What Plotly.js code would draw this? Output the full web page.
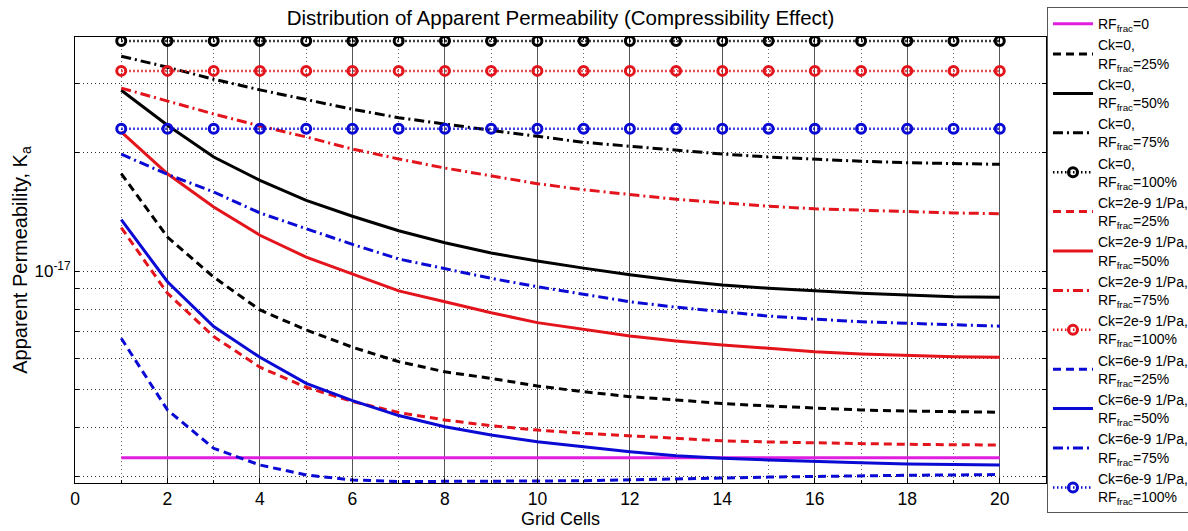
<!DOCTYPE html>
<html><head><meta charset="utf-8">
<script src="https://cdn.plot.ly/plotly-3.0.1.min.js"></script>
<style>html,body{margin:0;padding:0;background:#fff;overflow:hidden}#chart{width:1188px;height:531px}</style>
</head><body><div id="chart"></div>
<script>
// ---- data ----
const cells = [1,2,3,4,5,6,7,8,9,10,11,12,13,14,15,16,17,18,19,20];

const rf0 = [3.35e-18,3.35e-18,3.35e-18,3.35e-18,3.35e-18,3.35e-18,3.35e-18,3.35e-18,3.35e-18,3.35e-18,
             3.35e-18,3.35e-18,3.35e-18,3.35e-18,3.35e-18,3.35e-18,3.35e-18,3.35e-18,3.35e-18,3.35e-18];

const ck0_25 = [1.768e-17,1.220e-17,9.65e-18,7.96e-18,7.08e-18,6.40e-18,5.88e-18,5.54e-18,5.33e-18,5.10e-18,
                4.93e-18,4.79e-18,4.70e-18,4.60e-18,4.535e-18,4.473e-18,4.429e-18,4.403e-18,4.385e-18,4.37e-18];
const ck0_50 = [2.883e-17,2.348e-17,1.950e-17,1.701e-17,1.513e-17,1.378e-17,1.266e-17,1.180e-17,1.111e-17,1.060e-17,
                1.017e-17,9.78e-18,9.46e-18,9.21e-18,9.04e-18,8.90e-18,8.78e-18,8.69e-18,8.60e-18,8.57e-18];
const ck0_75 = [3.52e-17,3.30e-17,3.075e-17,2.89e-17,2.73e-17,2.58e-17,2.455e-17,2.362e-17,2.280e-17,2.201e-17,
                2.126e-17,2.077e-17,2.028e-17,1.985e-17,1.950e-17,1.924e-17,1.902e-17,1.886e-17,1.875e-17,1.868e-17];
const ck0_100 = [3.85e-17,3.85e-17,3.85e-17,3.85e-17,3.85e-17,3.85e-17,3.85e-17,3.85e-17,3.85e-17,3.85e-17,
                 3.85e-17,3.85e-17,3.85e-17,3.85e-17,3.85e-17,3.85e-17,3.85e-17,3.85e-17,3.85e-17,3.85e-17];

const ck2_25 = [1.289e-17,8.78e-18,6.81e-18,5.69e-18,5.06e-18,4.656e-18,4.365e-18,4.177e-18,4.040e-18,3.939e-18,
                3.864e-18,3.804e-18,3.753e-18,3.698e-18,3.672e-18,3.650e-18,3.636e-18,3.622e-18,3.614e-18,3.608e-18];
const ck2_50 = [2.26e-17,1.768e-17,1.455e-17,1.233e-17,1.085e-17,9.83e-18,8.90e-18,8.35e-18,7.83e-18,7.39e-18,
                7.11e-18,6.83e-18,6.64e-18,6.48e-18,6.36e-18,6.23e-18,6.15e-18,6.09e-18,6.05e-18,6.03e-18];
const ck2_75 = [2.92e-17,2.707e-17,2.509e-17,2.339e-17,2.193e-17,2.044e-17,1.928e-17,1.828e-17,1.745e-17,1.668e-17,
                1.610e-17,1.564e-17,1.522e-17,1.491e-17,1.461e-17,1.440e-17,1.427e-17,1.413e-17,1.405e-17,1.399e-17];
const ck2_100 = [3.23e-17,3.23e-17,3.23e-17,3.23e-17,3.23e-17,3.23e-17,3.23e-17,3.23e-17,3.23e-17,3.23e-17,
                 3.23e-17,3.23e-17,3.23e-17,3.23e-17,3.23e-17,3.23e-17,3.23e-17,3.23e-17,3.23e-17,3.23e-17];

const ck6_25 = [6.742e-18,4.429e-18,3.539e-18,3.209e-18,3.027e-18,2.939e-18,2.913e-18,2.912e-18,2.912e-18,2.922e-18,
                2.927e-18,2.939e-18,2.951e-18,2.973e-18,2.990e-18,3.003e-18,3.015e-18,3.022e-18,3.027e-18,3.035e-18];
const ck6_50 = [1.351e-17,9.39e-18,7.22e-18,6.03e-18,5.18e-18,4.68e-18,4.287e-18,4.016e-18,3.825e-18,3.678e-18,
                3.572e-18,3.469e-18,3.389e-18,3.338e-18,3.305e-18,3.272e-18,3.253e-18,3.228e-18,3.214e-18,3.209e-18];
const ck6_75 = [1.982e-17,1.762e-17,1.589e-17,1.405e-17,1.281e-17,1.169e-17,1.073e-17,1.016e-17,9.58e-18,9.12e-18,
                8.72e-18,8.35e-18,8.09e-18,7.88e-18,7.68e-18,7.54e-18,7.43e-18,7.36e-18,7.29e-18,7.24e-18];
const ck6_100 = [2.30e-17,2.30e-17,2.30e-17,2.30e-17,2.30e-17,2.30e-17,2.30e-17,2.30e-17,2.30e-17,2.30e-17,
                 2.30e-17,2.30e-17,2.30e-17,2.30e-17,2.30e-17,2.30e-17,2.30e-17,2.30e-17,2.30e-17,2.30e-17];

const seriesNames = [
  'RF<sub>frac</sub>=0',
  'Ck=0,<br>RF<sub>frac</sub>=25%', 'Ck=0,<br>RF<sub>frac</sub>=50%', 'Ck=0,<br>RF<sub>frac</sub>=75%', 'Ck=0,<br>RF<sub>frac</sub>=100%',
  'Ck=2e-9 1/Pa,<br>RF<sub>frac</sub>=25%', 'Ck=2e-9 1/Pa,<br>RF<sub>frac</sub>=50%', 'Ck=2e-9 1/Pa,<br>RF<sub>frac</sub>=75%', 'Ck=2e-9 1/Pa,<br>RF<sub>frac</sub>=100%',
  'Ck=6e-9 1/Pa,<br>RF<sub>frac</sub>=25%', 'Ck=6e-9 1/Pa,<br>RF<sub>frac</sub>=50%', 'Ck=6e-9 1/Pa,<br>RF<sub>frac</sub>=75%', 'Ck=6e-9 1/Pa,<br>RF<sub>frac</sub>=100%'
];
const seriesValues = [rf0, ck0_25, ck0_50, ck0_75, ck0_100, ck2_25, ck2_50, ck2_75, ck2_100, ck6_25, ck6_50, ck6_75, ck6_100];

const yTickVals = [3e-18,4e-18,5e-18,6e-18,7e-18,8e-18,9e-18,1e-17,2e-17,3e-17];
const yTickText = ['','','','','','','','10<sup>-17</sup>','',''];

// ---- styles ----
const BLACK = '#000000', RED = '#e3141b', BLUE = '#0a0ad4', MAG = '#e01ee0';
const DASH = '8px,5px', DASHDOT = '10px,4px,2px,4px', DOT = '1.5px,2.5px';
const styles = [
  {c: MAG,   d: 'solid'},
  {c: BLACK, d: DASH}, {c: BLACK, d: 'solid'}, {c: BLACK, d: DASHDOT}, {c: BLACK, d: DOT, m: true},
  {c: RED,   d: DASH}, {c: RED,   d: 'solid'}, {c: RED,   d: DASHDOT}, {c: RED,   d: DOT, m: true},
  {c: BLUE,  d: DASH}, {c: BLUE,  d: 'solid'}, {c: BLUE,  d: DASHDOT}, {c: BLUE,  d: DOT, m: true}
];

const traces = seriesValues.map((vals, i) => {
  const s = styles[i];
  const t = {
    x: cells, y: vals, name: seriesNames[i],
    type: 'scatter', mode: s.m ? 'lines+markers' : 'lines',
    line: {color: s.c, width: s.m ? 2.5 : 3, dash: s.d}
  };
  if (s.m) t.marker = {symbol: 'circle-open', size: 9, color: s.c, line: {width: 3, color: s.c}};
  return t;
});

const FONT = 'Liberation Sans, Arial, Helvetica, sans-serif';

const layout = {
  width: 1188, height: 531,
  margin: {l: 75, r: 142, t: 37, b: 48, autoexpand: false},
  paper_bgcolor: '#ffffff', plot_bgcolor: '#ffffff',
  font: {family: FONT, color: '#000', size: 16},
  showlegend: true,
  title: {text: 'Distribution of Apparent Permeability (Compressibility Effect)',
          font: {family: FONT, size: 20.5, color: '#000'},
          x: 0.5, xref: 'paper', xanchor: 'center', y: 0.966, yref: 'container', yanchor: 'middle'},
  xaxis: {
    range: [0, 21], tick0: 0, dtick: 2, tickmode: 'linear',
    ticks: 'inside', ticklen: 5, tickcolor: '#000',
    showline: true, mirror: 'ticks', linecolor: '#000', linewidth: 1,
    showgrid: true, gridcolor: '#555555', gridwidth: 1, zeroline: false,
    minor: {dtick: 1, tick0: 0, showgrid: true, gridcolor: '#666666', griddash: '1px,3px', ticks: 'inside', ticklen: 3, tickcolor: '#000'},
    tickfont: {size: 17.5, family: FONT},
    title: {text: 'Grid Cells', font: {size: 18, family: FONT}, standoff: 4},
    automargin: false
  },
  yaxis: {
    type: 'log', range: [-17.5394, -16.4046],
    tickmode: 'array', tickvals: yTickVals, ticktext: yTickText,
    ticks: 'inside', ticklen: 4, tickcolor: '#000',
    showline: true, mirror: 'ticks', linecolor: '#000', linewidth: 1,
    showgrid: true, gridcolor: '#333333', gridwidth: 1, griddash: '1px,3px', zeroline: false,
    tickfont: {size: 17, family: FONT},
    title: {text: 'Apparent Permeability, K<sub>a</sub>', font: {size: 20, family: FONT}, standoff: 0},
    automargin: false
  },
  legend: {
    x: 1.001, xanchor: 'left', y: 1.067, yanchor: 'top',
    bgcolor: '#ffffff', bordercolor: '#555555', borderwidth: 1,
    font: {family: FONT, size: 14, color: '#000'},
    itemwidth: 40, traceorder: 'normal', maxheight: 530
  }
};

Plotly.newPlot('chart', traces, layout, {displayModeBar: false, staticPlot: true});
</script></body></html>
